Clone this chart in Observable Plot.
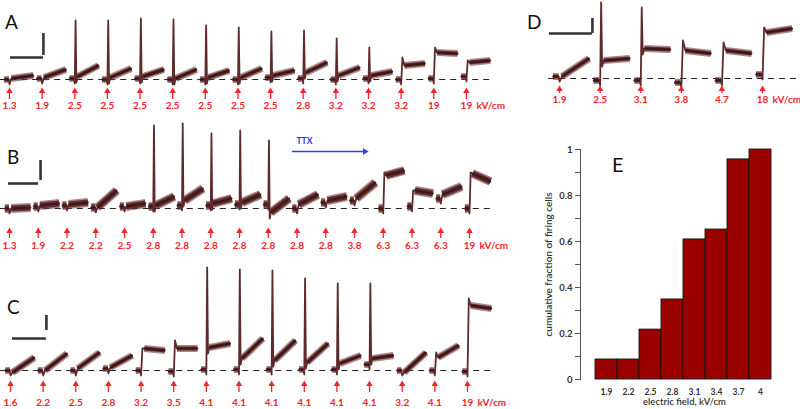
<!DOCTYPE html>
<html><head><meta charset="utf-8">
<script src="https://cdn.jsdelivr.net/npm/d3@7"></script>
<script src="https://cdn.jsdelivr.net/npm/@observablehq/plot@0.6"></script>
<style>
body{margin:0;background:#fff;}
#fig{position:relative;width:800px;height:409px;overflow:hidden;background:#fff;}
.panel{position:absolute;}
.panel svg{max-width:none;overflow:visible;display:block;}
.letter{position:absolute;font-family:Lato,"Open Sans",sans-serif;font-size:19px;line-height:1;color:#111;}
</style></head><body><div id="fig"></div>
<script>
// ---------- Panel A (15 sweeps) : levels in px-equivalent units above rest ----------
const fieldA = ["1.3","1.9","2.5","2.5","2.5","2.5","2.5","2.5","2.5","2.8","3.2","3.2","3.2","19","19"];
const preA   = [0,1,1,0,1,0,0,0,2,1,0,1,0,1,3];
const spikeA = [0,0,59,59,61,60,54,52,48,49,41,32,0,0,0];
const stepA  = [0,0,0,0,0,0,0,0,0,0,0,0,22,32,19];
const startA = [1,2,3,2,3,1,2,2,4,7,4,4,14,27,17];
const endA   = [4,10,14,11,10,10,9,11,9,17,12,8,16,26,19];

// ---------- Panel B (17 sweeps) ----------
const fieldB = ["1.3","1.9","2.2","2.2","2.5","2.8","2.8","2.8","2.8","2.8","2.8","2.8","3.8","6.3","6.3","6.3","19"];
const preB   = [0,2,3,1,2,2,3,3,4,4,0,6,8,0,2,10,0];
const spikeB = [0,0,0,0,0,83,85,75,78,68,0,0,0,0,0,0,0];
const stepB  = [0,0,0,0,0,0,0,0,0,0,0,0,0,36,18,0,36];
const startB = [0,3,4,1,2,3,8,5,6,-4,4,8,10,33,18,14,35];
const endB   = [1,5,6,18,5,12,20,10,14,10,14,12,26,38,15,22,27];
const ttx = {from:10.04, to:12.69, y:57, textX:10.46, textY:67};

// ---------- Panel C (15 sweeps) ----------
const fieldC = ["1.6","2.2","2.5","2.8","3.2","3.5","4.1","4.1","4.1","4.1","4.1","4.1","3.2","4.1","19"];
const preC   = [0,0,0,2,0,-1,1,1,1,1,1,6,0,0,-1];
const spikeC = [0,0,0,0,0,0,103,101,100,92,87,87,0,0,0];
const stepC  = [0,0,0,0,22,30,0,0,0,0,0,0,0,18,72];
const startC = [-2,0,2,3,22,22,23,12,10,8,7,12,-2,13,65];
const endC   = [13,17,18,15,20,22,27,32,30,27,15,15,18,25,62];

// ---------- Panel D (6 sweeps) ----------
const fieldD = ["1.9","2.5","3.1","3.8","4.7","18"];
const preD   = [2,-2,-2,-4,-2,4];
const spikeD = [0,76,71,0,0,0];
const stepD  = [0,0,0,38,36,51];
const startD = [2,18,30,28,28,46];
const endD   = [20,20,29,25,25,50];

// ---------- Panel E ----------
const fieldE = ["1.9","2.2","2.5","2.8","3.1","3.4","3.7","4"];
const fracE  = [0.087,0.087,0.217,0.348,0.609,0.652,0.957,1.0];
const yTicksE = [0,0.2,0.4,0.6,0.8,1];
const yMinorE = [0.1,0.3,0.5,0.7,0.9];

const RED = "#f0262b";
const fig = document.getElementById("fig");

function place(node, left, top){
  const d = document.createElement("div");
  d.className = "panel"; d.style.left = left+"px"; d.style.top = top+"px";
  d.appendChild(node); fig.appendChild(d);
}
function letter(t, left, top, size){
  const d = document.createElement("div");
  d.className = "letter"; d.textContent = t;
  d.style.left = left+"px"; d.style.top = top+"px";
  if (size) d.style.fontSize = size+"px";
  fig.appendChild(d);
}

function tracePanel(c){
  const n = c.fields.length, full = [], band = [];
  for (let i=0;i<n;i++){
    const p = c.pre[i];
    const pts = [[0.04,p],[0.18,p],[0.2,p-5]];
    let post;
    if (c.spike[i]) { pts.push([0.225,c.spike[i]],[0.25,c.start[i]-6]); post=[[0.29,c.start[i]],[0.93,c.end[i]]]; }
    else if (c.step[i]) { pts.push([0.24,c.step[i]]); post=[[0.3,c.start[i]],[0.93,c.end[i]]]; }
    else { post=[[0.26,c.start[i]],[0.93,c.end[i]]]; }
    pts.push(...post);
    pts.forEach(([t,v])=>full.push({x:i+t,y:v,z:i}));
    [[0.04,p],[0.18,p]].forEach(([t,v])=>band.push({x:i+t,y:v,z:"a"+i}));
    post.forEach(([t,v])=>band.push({x:i+t,y:v,z:"b"+i}));
  }
  const stim = c.fields.map((f,i)=>({x:i+0.2,f}));
  const [tip,tail,lab] = c.arrow;
  const marks = [
    Plot.ruleY([0],{x1:c.dash[0],x2:c.dash[1],stroke:"#222",strokeWidth:1.1,strokeDasharray:"6,5"}),
    Plot.line(band,{x:"x",y:"y",z:"z",stroke:"#6e3a3a",strokeWidth:c.bw,strokeOpacity:0.6,strokeLinecap:"butt"}),
    Plot.line(band,{x:"x",y:"y",z:"z",stroke:"#552525",strokeWidth:c.bw-3,strokeOpacity:0.9,strokeLinecap:"butt"}),
    Plot.line(full,{x:"x",y:"y",z:"z",stroke:"#5e2a2a",strokeWidth:1.8}),
    Plot.line(band,{x:"x",y:"y",z:"z",stroke:"#3f1515",strokeWidth:2,strokeLinecap:"butt"}),
    Plot.ruleX(stim,{x:"x",y1:tail,y2:tip-3,stroke:RED,strokeWidth:1.3}),
    Plot.dot(stim,{x:"x",y:tip,dy:3.7,symbol:"triangle",r:2.4,fill:RED,stroke:null}),
    Plot.text(stim,{x:"x",y:lab,text:"f",fill:RED,fontWeight:"bold",fontSize:10}),
    Plot.text(["kV/cm"],{x:n-1+0.2,y:lab,dx:10,textAnchor:"start",fill:RED,fontWeight:"bold",fontSize:10}),
    Plot.ruleY([c.bar.y],{x1:c.bar.x1,x2:c.bar.x2,stroke:"#333",strokeWidth:2.6}),
    Plot.ruleX([c.bar.vx],{y1:c.bar.vy1,y2:c.bar.vy2,stroke:"#333",strokeWidth:2.6}),
    ...(c.extra||[])
  ];
  return Plot.plot({
    width:c.width,height:c.height,marginLeft:c.mL,marginRight:c.mR,marginTop:0,marginBottom:c.height-c.base,
    x:{domain:[0,n],axis:null},y:{domain:[0,c.base],axis:null},
    style:{fontFamily:"Lato, 'Open Sans', sans-serif",background:"transparent",overflow:"visible"},
    marks
  });
}

// A
place(tracePanel({fields:fieldA,pre:preA,spike:spikeA,step:stepA,start:startA,end:endA,bw:7,
  width:530,height:115,mL:2.47,mR:38,base:79,arrow:[-8,-20,-26],dash:[-0.1,15.03],
  bar:{x1:0.23,x2:1.24,y:22,vx:1.24,vy1:24,vy2:46}}),0,0);
// B
place(tracePanel({fields:fieldB,pre:preB,spike:spikeB,step:stepB,start:startB,end:endB,bw:9,
  width:530,height:140,mL:3.25,mR:38,base:93,arrow:[-19,-30,-37],dash:[-0.12,17.03],
  bar:{x1:0.165,x2:1.21,y:25,vx:1.28,vy1:28,vy2:48},
  extra:[
    Plot.ruleY([ttx.y],{x1:ttx.from,x2:ttx.to-0.1,stroke:"#2b3bff",strokeWidth:1.6}),
    Plot.dot([ttx],{x:"to",y:"y",dx:-3.7,symbol:"triangle",rotate:90,r:2.4,fill:"#2b3bff",stroke:null}),
    Plot.text(["TTX"],{x:ttx.textX,y:ttx.textY,fill:"#1f2fe0",fontWeight:"bold",fontSize:8.5})
  ]}),0,115);
// C
place(tracePanel({fields:fieldC,pre:preC,spike:spikeC,step:stepC,start:startC,end:endC,bw:7,
  width:530,height:154,mL:3.47,mR:36.9,base:115,arrow:[-10,-22,-32],dash:[-0.1,15.0],
  bar:{x1:0.26,x2:1.30,y:32,vx:1.30,vy1:40,vy2:55}}),0,255);
// D
place(tracePanel({fields:fieldD,pre:preD,spike:spikeD,step:stepD,start:startD,end:endD,bw:7,
  width:270,height:110,mL:20.9,mR:5.5,base:78,arrow:[-7,-15,-21],dash:[-0.07,6.13],
  bar:{x1:-0.05,x2:1.01,y:45,vx:1.01,vy1:45,vy2:60}}),530,0);

// E
const dataE = fieldE.map((f,i)=>({f,v:fracE[i]}));
place(Plot.plot({
  width:270,height:299,marginLeft:50,marginRight:28,marginTop:39,marginBottom:30,
  x:{type:"band",domain:fieldE,padding:0,insetLeft:14},
  y:{domain:[0,1]},
  style:{fontFamily:"Lato, 'Open Sans', sans-serif",background:"transparent",overflow:"visible"},
  marks:[
    Plot.barY(dataE,{x:"f",y:"v",fill:"#990000",stroke:"#1a1a1a",strokeWidth:0.9}),
    Plot.frame({anchor:"left",stroke:"#555"}),
    Plot.axisY({ticks:yTicksE,tickSize:5,tickPadding:3,fontSize:9.5,fontWeight:"bold",fill:"#333",stroke:"#555",label:null,
      tickFormat:d=>(d===0||d===1)?String(d):d.toFixed(1)}),
    Plot.axisY({ticks:yMinorE,tickSize:5,stroke:"#555",tickFormat:()=>"",label:null}),
    Plot.axisX({tickSize:0,tickPadding:9,fontSize:8.5,fontWeight:"bold",fill:"#333",label:null}),
    Plot.text(["electric field, kV/cm"],{frameAnchor:"bottom",textAnchor:"middle",dx:8,dy:25,fontSize:9.5,fill:"#333",fontWeight:600}),
    Plot.text(["cumulative fraction of firing cells"],{frameAnchor:"left",textAnchor:"middle",dx:-32,rotate:-90,fontSize:10,fill:"#333",fontWeight:600})
  ]
}),530,110);

letter("A",5,12); letter("B",7,147); letter("C",7,297); letter("D",527,12); letter("E",612,154,20);
</script></body></html>
